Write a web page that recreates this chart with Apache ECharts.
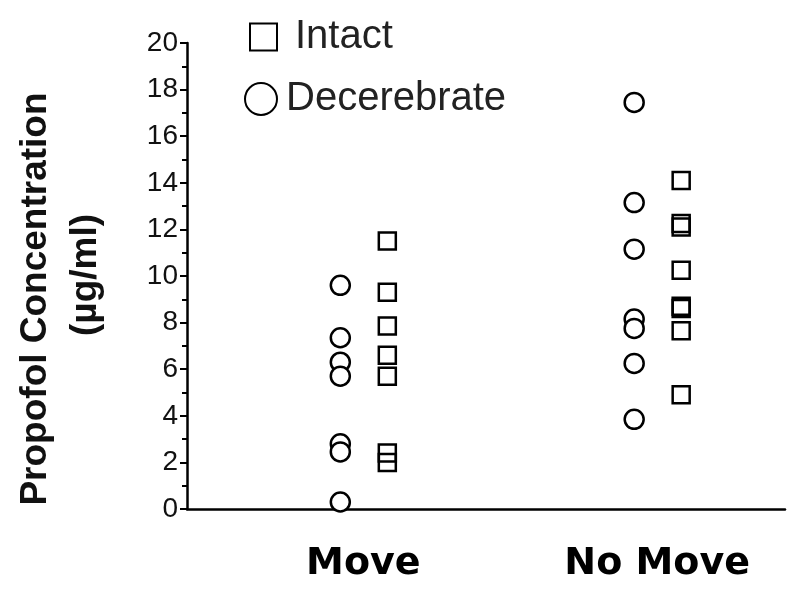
<!DOCTYPE html>
<html lang="en">
  <head>
    <meta charset="UTF-8" />
    <title>propofol scatter</title>
    <script src="https://cdn.jsdelivr.net/npm/echarts@6/dist/echarts.min.js"></script>
    <style>
      body { margin: 0; background: #fff; }
      #main { width: 800px; height: 599px; }
    </style>
  </head>
  <body>
    <div id="main"></div>
    <script>
      // categories on the x axis
      var groups = ["Move", "No Move"];
      // values (µg/ml)
      var decerebrateMove = [9.6, 7.35, 6.3, 5.7, 2.8, 2.45, 0.3];
      var intactMove = [11.5, 9.3, 7.85, 6.6, 5.7, 2.4, 2.0];
      var decerebrateNoMove = [17.45, 13.15, 11.15, 8.15, 7.75, 6.25, 3.85];
      var intactNoMove = [14.1, 12.25, 12.1, 10.25, 8.7, 8.6, 7.65, 4.9];

      function points(idx, vals) {
        return vals.map(function (v) { return [idx, v]; });
      }

      var font = "'Liberation Sans', Arial, sans-serif";
      var myChart = echarts.init(document.getElementById("main"));
      var option = {
        animation: false,
        grid: { left: 187, right: 15, top: 43, bottom: 90 },
        legend: [
          {
            data: ["Intact"],
            left: 244, top: 12,
            itemWidth: 27, itemHeight: 27,
            textStyle: { fontFamily: font, fontSize: 40, color: "#222", padding: [0, 0, 0, 13] }
          },
          {
            data: ["Decerebrate"],
            left: 239, top: 74,
            itemWidth: 32, itemHeight: 32,
            textStyle: { fontFamily: font, fontSize: 40, color: "#222", padding: [0, 0, 0, 4] }
          }
        ],
        xAxis: {
          type: "value",
          min: -0.6,
          max: 1.435,
          axisLine: { lineStyle: { color: "#000", width: 2.5 } },
          axisTick: { show: false },
          splitLine: { show: false },
          axisLabel: {
            customValues: [0, 1],
            formatter: function (v) { return groups[Math.round(v)]; },
            margin: 36,
            fontFamily: "DejaVu Sans, sans-serif",
            fontSize: 38,
            fontWeight: "bold",
            color: "#000"
          }
        },
        yAxis: {
          type: "value",
          min: 0,
          max: 20,
          interval: 2,
          axisLine: { show: true, onZero: false, lineStyle: { color: "#000", width: 2.5 } },
          axisTick: { show: true, length: 7, lineStyle: { width: 2 } },
          minorTick: { show: true, splitNumber: 2, length: 5, lineStyle: { color: "#000", width: 2 } },
          splitLine: { show: false },
          axisLabel: { fontFamily: font, fontSize: 28, color: "#111", margin: 9 }
        },
        graphic: [
          {
            type: "text", x: 36, y: 299, rotation: Math.PI / 2,
            style: {
              text: "Propofol Concentration",
              font: "bold 37px " + font, fill: "#111",
              align: "center", verticalAlign: "middle"
            }
          },
          {
            type: "text", x: 86, y: 275, rotation: Math.PI / 2,
            style: {
              text: "(\u00b5g/ml)",
              font: "bold 37px " + font, fill: "#111",
              align: "center", verticalAlign: "middle"
            }
          }
        ],
        series: [
          {
            name: "Decerebrate", type: "scatter", symbol: "circle", symbolSize: 19,
            symbolOffset: [-23, 0],
            itemStyle: { color: "#fff", borderColor: "#000", borderWidth: 2.5, opacity: 1 },
            data: points(0, decerebrateMove).concat(points(1, decerebrateNoMove))
          },
          {
            name: "Intact", type: "scatter", symbol: "rect", symbolSize: 17,
            symbolOffset: [24, 0],
            itemStyle: { color: "rgba(255,255,255,0)", borderColor: "#000", borderWidth: 2.5, opacity: 1 },
            data: points(0, intactMove).concat(points(1, intactNoMove))
          }
        ]
      };
      myChart.setOption(option);
    </script>
  </body>
</html>
